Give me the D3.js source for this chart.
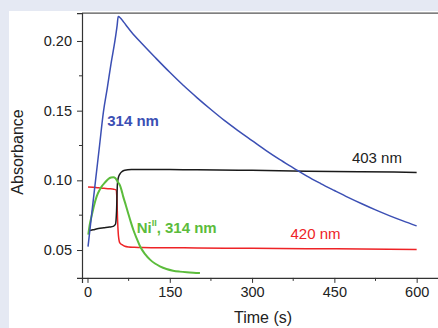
<!DOCTYPE html>
<html>
<head>
<meta charset="utf-8">
<script src="https://cdn.jsdelivr.net/npm/d3@7"></script>
<style>
  html, body { margin: 0; padding: 0; background: #e5e9f3; }
  svg { display: block; font-family: "Liberation Sans", Arial, Helvetica, sans-serif; }
</style>
</head>
<body>
<div id="chart"></div>
<script>
// absorbance traces (time in s)
const timeBlue = [1, 8, 15, 22, 29, 36, 43, 50, 54, 56, 60, 66, 80, 100, 125, 150, 175, 200, 225, 250, 275, 300, 325, 350, 375, 400, 425, 450, 475, 500, 525, 550, 575, 600];
const absBlue = [0.0525, 0.077, 0.101, 0.125, 0.149, 0.166, 0.184, 0.200, 0.211, 0.2175, 0.2165, 0.2135, 0.2065, 0.1978, 0.1875, 0.1775, 0.168, 0.1592, 0.1508, 0.1428, 0.1355, 0.1285, 0.1215, 0.115, 0.109, 0.103, 0.0977, 0.0927, 0.0878, 0.0832, 0.0788, 0.0747, 0.0709, 0.0673];

const timeBlack = [1, 10, 20, 30, 40, 47, 51, 53, 54.5, 56, 59, 63, 68, 80, 100, 150, 200, 300, 400, 500, 600];
const absBlack = [0.0638, 0.0645, 0.0655, 0.066, 0.0665, 0.067, 0.0685, 0.078, 0.097, 0.1015, 0.1045, 0.1063, 0.1072, 0.1077, 0.1078, 0.1077, 0.1076, 0.1072, 0.1066, 0.1062, 0.1057];

const timeRed = [1, 10, 20, 30, 40, 48, 52, 53.5, 55, 56.5, 59, 63, 68, 75, 85, 100, 150, 200, 300, 400, 500, 600];
const absRed = [0.0953, 0.095, 0.0946, 0.0943, 0.094, 0.0936, 0.0932, 0.088, 0.070, 0.060, 0.0551, 0.0538, 0.0527, 0.0522, 0.052, 0.0518, 0.0516, 0.0515, 0.0512, 0.051, 0.0507, 0.0504];

const timeGreen = [1.5, 4, 7.6, 12, 16.8, 22, 26, 32, 38, 43, 47, 51, 55, 59, 62, 65, 70, 74, 79, 84, 90, 96, 105, 114, 123, 132, 144, 156, 168, 181, 193, 205];
const absGreen = [0.061, 0.068, 0.0745, 0.082, 0.0885, 0.093, 0.0957, 0.0985, 0.101, 0.102, 0.1022, 0.1015, 0.099, 0.0965, 0.093, 0.0885, 0.082, 0.0766, 0.070, 0.064, 0.058, 0.0525, 0.047, 0.0431, 0.0403, 0.0383, 0.0364, 0.0352, 0.0345, 0.034, 0.0337, 0.0335];

const xTicks = [0, 150, 300, 450, 600];
const xMinor = [75, 225, 375, 525];
const yTicks = [0.05, 0.10, 0.15, 0.20];
const yMinor = [0.075, 0.125, 0.175];

const colors = { blue: "#3b4fb4", black: "#1a1a1a", red: "#ee2326", green: "#5cbc3c" };

const width = 438, height = 328;

const svg = d3.select("#chart").append("svg")
  .attr("width", width)
  .attr("height", height);

svg.append("rect").attr("width", width).attr("height", height).attr("fill", "#e5e9f3");
svg.append("rect").attr("x", 9).attr("y", 11).attr("width", width - 9).attr("height", height - 11).attr("fill", "#fff");

const x = d3.scaleLinear().domain([-10, 642]).range([82, 439.7]);
const y = d3.scaleLinear().domain([0.03, 0.22]).range([277.9, 13.1]);

const axisColor = "#333";

// frame: top line
svg.append("line")
  .attr("x1", x(-10)).attr("x2", width)
  .attr("y1", y(0.22)).attr("y2", y(0.22))
  .attr("stroke", "#555").attr("stroke-width", 1.2);

// x axis
const gx = svg.append("g").attr("transform", `translate(0,${y(0.03)})`)
  .call(d3.axisBottom(x).tickValues(xTicks).tickSize(5).tickPadding(4).tickFormat(d3.format("d")));
gx.append("g").selectAll("line").data(xMinor).join("line")
  .attr("x1", d => x(d)).attr("x2", d => x(d)).attr("y1", 0).attr("y2", 3)
  .attr("stroke", axisColor);

// y axis
const gy = svg.append("g").attr("transform", `translate(${x(-10)},0)`)
  .call(d3.axisLeft(y).tickValues(yTicks).tickSize(5).tickPadding(5).tickFormat(d3.format(".2f")));
gy.append("g").selectAll("line").data(yMinor).join("line")
  .attr("x1", 0).attr("x2", -3).attr("y1", d => y(d)).attr("y2", d => y(d))
  .attr("stroke", axisColor);

for (const g of [gx, gy]) {
  g.select(".domain").attr("stroke", axisColor).attr("stroke-width", 1.2);
  g.selectAll(".tick line").attr("stroke", axisColor);
  g.selectAll(".tick text")
    .attr("fill", "#222")
    .style("font-size", "14.5px")
    .style("font-family", "'Liberation Sans', Arial, sans-serif");
}

// axis titles
svg.append("text")
  .attr("x", 263).attr("y", 323)
  .attr("text-anchor", "middle")
  .attr("fill", "#222")
  .style("font-size", "16px")
  .text("Time (s)");

svg.append("text")
  .attr("transform", "translate(23,152) rotate(-90)")
  .attr("text-anchor", "middle")
  .attr("fill", "#222")
  .style("font-size", "16px")
  .text("Absorbance");

// traces
const line = d3.line()
  .x(d => x(d[0]))
  .y(d => y(d[1]))
  .curve(d3.curveMonotoneX);

const series = [
  { t: timeRed, a: absRed, color: colors.red },
  { t: timeBlack, a: absBlack, color: colors.black },
  { t: timeGreen, a: absGreen, color: colors.green },
  { t: timeBlue, a: absBlue, color: colors.blue },
];

svg.append("g").selectAll("path")
  .data(series)
  .join("path")
  .attr("d", s => line(d3.zip(s.t, s.a)))
  .attr("fill", "none")
  .attr("stroke", s => s.color)
  .attr("stroke-width", s => s.color === colors.green ? 2 : 1.5)
  .attr("stroke-linejoin", "round");

// labels
svg.append("text")
  .attr("x", x(36)).attr("y", y(0.139))
  .attr("fill", colors.blue).attr("font-weight", "bold")
  .style("font-size", "15px")
  .text("314 nm");

svg.append("text")
  .attr("x", x(482)).attr("y", y(0.1123))
  .attr("fill", "#222")
  .style("font-size", "15px")
  .text("403 nm");

svg.append("text")
  .attr("x", x(370)).attr("y", y(0.058))
  .attr("fill", colors.red)
  .style("font-size", "15px")
  .text("420 nm");

const ni = svg.append("text")
  .attr("x", x(89.6)).attr("y", y(0.0623))
  .attr("fill", colors.green).attr("font-weight", "bold")
  .style("font-size", "15px");
ni.append("tspan").text("Ni");
ni.append("tspan").attr("dy", -7).style("font-size", "9px").text("II");
ni.append("tspan").attr("dy", 7).text(", 314 nm");
</script>
</body>
</html>
